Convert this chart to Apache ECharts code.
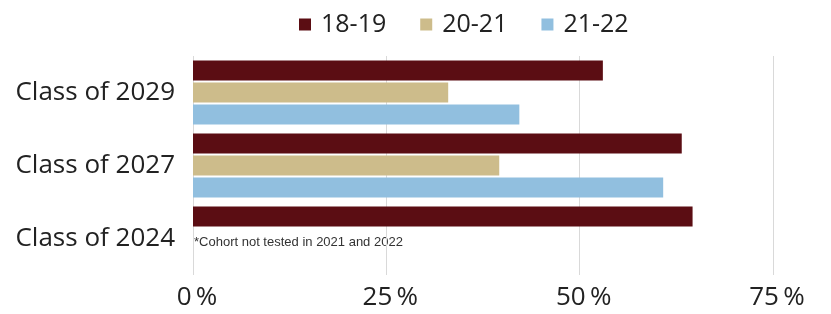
<!DOCTYPE html>
<html>
<head>
<meta charset="utf-8">
<script src="https://cdn.jsdelivr.net/npm/echarts@6/dist/echarts.min.js"></script>
<style>
html,body{margin:0;padding:0;background:#fff;}
#chartmain{width:831px;height:314px;}
</style>
</head>
<body>
<div id="chartmain"></div>
<script>
// data
var categories = ['Class of 2029', 'Class of 2027', 'Class of 2024'];
var seriesNames = ['18-19', '20-21', '21-22'];
var values1819 = [53.0, 63.2, 64.6];
var values2021 = [33.0, 39.6, null];
var values2122 = [42.2, 60.8, null];
var xTicks = [0, 25, 50, 75];
var footnote = '*Cohort not tested in 2021 and 2022';

var colors = ['#5b0d13', '#cdbc8b', '#91bfdf'];
var font = 'Open Sans';

var myChart = echarts.init(document.getElementById('chartmain'));
var option = {
	backgroundColor: '#fff',
	animation: false,
	color: colors,
	textStyle: {fontFamily: font},
	legend: {
		data: seriesNames,
		top: 7,
		left: 294,
		icon: 'rect',
		itemWidth: 12,
		itemHeight: 12,
		itemGap: 34,
		textStyle: {fontSize: 25, color: '#222', fontFamily: font, padding: [0, 0, 0, 5]}
	},
	grid: {left: 193, right: 58, top: 56, height: 219, containLabel: false},
	xAxis: {
		type: 'value',
		min: xTicks[0],
		max: xTicks[xTicks.length - 1],
		interval: 25,
		axisLine: {show: false},
		axisTick: {show: false},
		splitLine: {show: true, lineStyle: {color: '#d9d9d9', width: 1}},
		axisLabel: {
			formatter: '{value}\u2009%',
			fontSize: 26,
			color: '#222',
			fontFamily: font,
			margin: 10,
			padding: [0, 0, 0, 8]
		}
	},
	yAxis: {
		type: 'category',
		data: categories,
		inverse: true,
		axisLine: {show: false},
		axisTick: {show: false},
		axisLabel: {fontSize: 26, color: '#222', fontFamily: font, margin: 18, padding: [7, 0, 0, 0]}
	},
	series: [
		{name: seriesNames[0], type: 'bar', data: values1819, barGap: '10%', barCategoryGap: '12%'},
		{name: seriesNames[1], type: 'bar', data: values2021, barGap: '10%', barCategoryGap: '12%'},
		{name: seriesNames[2], type: 'bar', data: values2122, barGap: '10%', barCategoryGap: '12%'}
	],
	graphic: [{
		type: 'text',
		left: 194,
		top: 236,
		style: {text: footnote, fontSize: 13, fill: '#333', fontFamily: 'Liberation Sans'}
	}]
};
myChart.setOption(option);
</script>
</body>
</html>
